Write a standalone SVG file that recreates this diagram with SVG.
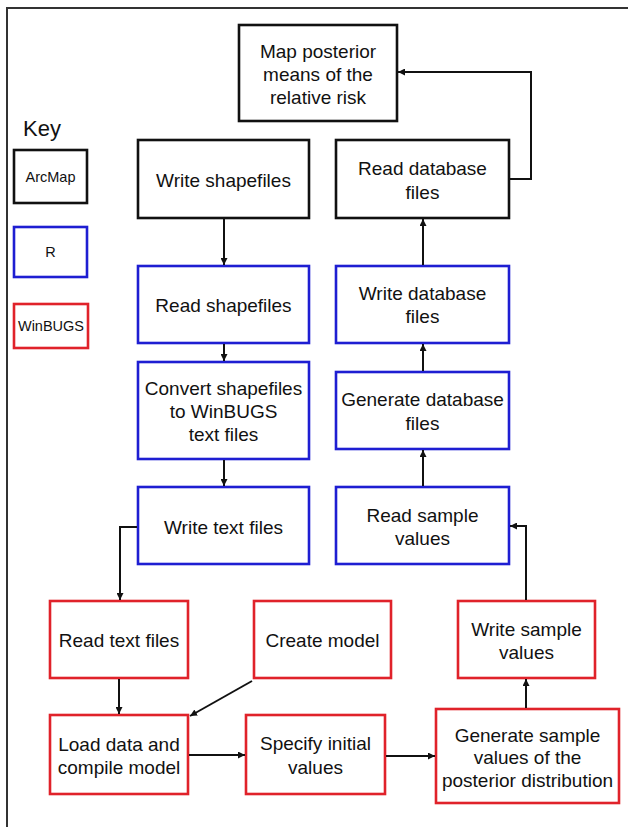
<svg xmlns="http://www.w3.org/2000/svg" width="628" height="827" viewBox="0 0 628 827">
<style>
text{font-family:"Liberation Sans",Arial,sans-serif;font-size:19px;fill:#111;text-anchor:middle;dominant-baseline:central}
.k{font-size:14.5px}
rect{fill:#fff;stroke-width:2.6}
.a rect{stroke:#111}
.r rect{stroke:#1e1ed2}
.w rect{stroke:#e0222a}
.c{fill:none;stroke:#111;stroke-width:2}
</style>
<defs>
<marker id="ah" viewBox="0 0 10 10" refX="10" refY="5" markerWidth="7" markerHeight="7" markerUnits="userSpaceOnUse" orient="auto">
<path d="M0,0L10,5L0,10z" fill="#111"/>
</marker>
</defs>
<rect x="0" y="0" width="628" height="827" fill="#fff" stroke="none"/>
<path d="M7,827V8H628" fill="none" stroke="#333" stroke-width="2"/>
<text x="23" y="128" style="font-size:22px;text-anchor:start">Key</text>
<g id="keyArcMap" class="a"><rect x="14" y="150" width="73" height="53"/><text class="k" x="50.5" y="177">ArcMap</text></g>
<g id="keyR" class="r"><rect x="14" y="227" width="73" height="50"/><text class="k" x="50.5" y="252">R</text></g>
<g id="keyWinBUGS" class="w"><rect x="14" y="304" width="74" height="44"/><text class="k" x="51" y="326">WinBUGS</text></g>

<g id="map" class="a"><rect x="239" y="25" width="158" height="96"/><text x="318" y="51">Map posterior</text><text x="318" y="74">means of the</text><text x="318" y="97">relative risk</text></g>
<g id="writeShapefiles" class="a"><rect x="138" y="140" width="171" height="78"/><text x="223.5" y="180">Write shapefiles</text></g>
<g id="readDatabase" class="a"><rect x="336" y="140" width="173" height="78"/><text x="422.5" y="168">Read database</text><text x="422.5" y="192">files</text></g>
<g id="readShapefiles" class="r"><rect x="138" y="266" width="171" height="77"/><text x="223.5" y="305">Read shapefiles</text></g>
<g id="writeDatabase" class="r"><rect x="336" y="266" width="173" height="77"/><text x="422.5" y="293">Write database</text><text x="422.5" y="316">files</text></g>
<g id="convert" class="r"><rect x="138" y="362" width="171" height="97"/><text x="223.5" y="388">Convert shapefiles</text><text x="223.5" y="411">to WinBUGS</text><text x="223.5" y="434">text files</text></g>
<g id="generateDatabase" class="r"><rect x="336" y="372" width="173" height="77"/><text x="422.5" y="399">Generate database</text><text x="422.5" y="423">files</text></g>
<g id="writeText" class="r"><rect x="138" y="487" width="171" height="77"/><text x="223.5" y="527">Write text files</text></g>
<g id="readSample" class="r"><rect x="336" y="487" width="173" height="77"/><text x="422.5" y="515">Read sample</text><text x="422.5" y="538">values</text></g>
<g id="readText" class="w"><rect x="50" y="601" width="138" height="77"/><text x="119" y="640">Read text files</text></g>
<g id="createModel" class="w"><rect x="254" y="601" width="137" height="77"/><text x="322.5" y="640">Create model</text></g>
<g id="writeSample" class="w"><rect x="458" y="601" width="137" height="77"/><text x="526.5" y="629">Write sample</text><text x="526.5" y="652">values</text></g>
<g id="loadData" class="w"><rect x="50" y="715" width="138" height="79"/><text x="119" y="744">Load data and</text><text x="119" y="767">compile model</text></g>
<g id="specify" class="w"><rect x="246" y="715" width="139" height="79"/><text x="315.5" y="743">Specify initial</text><text x="315.5" y="767">values</text></g>
<g id="generateSample" class="w"><rect x="436" y="709" width="183" height="94"/><text x="527.5" y="735">Generate sample</text><text x="527.5" y="757">values of the</text><text x="527.5" y="780">posterior distribution</text></g>

<g id="connectors" class="c" marker-end="url(#ah)">
<path d="M224,219V265"/>
<path d="M224,344V361"/>
<path d="M224,460V486"/>
<path d="M137,527H120V600"/>
<path d="M119,679V714"/>
<path d="M252,681L190,716"/>
<path d="M189,755H245"/>
<path d="M386,756H435"/>
<path d="M526,708V679"/>
<path d="M526,600V526H510"/>
<path d="M423,486V450"/>
<path d="M423,371V344"/>
<path d="M423,265V219"/>
<path d="M510,179H531V72H398"/>
</g>
</svg>
